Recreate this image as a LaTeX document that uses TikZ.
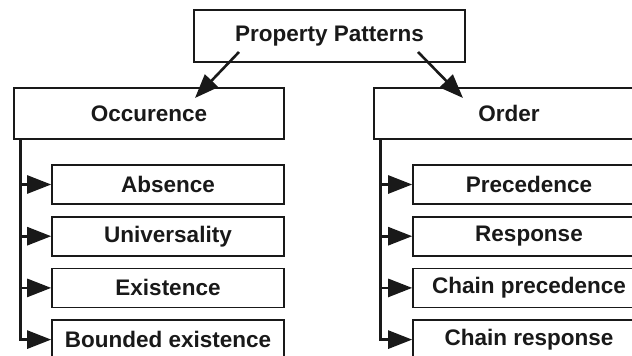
\documentclass[tikz,border=0pt]{standalone}
\usepackage{fontspec}
\setmainfont{Liberation Sans}
\usetikzlibrary{arrows.meta}

\begin{document}
\begin{tikzpicture}[
    x=1pt, y=-1pt,
    box/.style={draw=black!90, line width=1.6pt, text=black!90, inner sep=0pt,
      font=\bfseries\fontsize{22.5}{27}\selectfont},
    group/.style={box, minimum width=270pt, minimum height=51pt},
    leaf/.style={box, minimum width=232pt, minimum height=39pt},
    arr/.style={draw=black!90, line width=2.6pt, -{Triangle[length=24pt,width=18pt]}}
  ]
  \clip (0,0) rectangle (632,356);
  \node[box, minimum width=271pt, minimum height=52pt] (pp) at (329.5,36) {Property Patterns};
  \node[group] (occ) at (149,113.5) {Occurence};
  \node[group] (ord) at (509,113.5) {Order};
  % the two lists of patterns
  \foreach \name/\txt [count=\i from 0] in {abs/Absence, uni/Universality, ex/Existence, bex/Bounded existence}
    \node[leaf] (\name) at (168, 184.5+51.7*\i) {\txt};
  \foreach \name/\txt [count=\i from 0] in {pre/Precedence, res/Response, cpre/Chain precedence, cres/Chain response}
    \node[leaf] (\name) at (529, 184.5+51.7*\i) {\txt};

  \draw[arr] ([xshift=-90.5pt,yshift=-16pt]pp.center) -- ([xshift=46pt,yshift=15.5pt]occ.center);
  \draw[arr] ([xshift=88.5pt,yshift=-16pt]pp.center) -- ([xshift=-46pt,yshift=15.5pt]ord.center);

  % trunk lines with branches
  \coordinate (ltrunk) at ([xshift=7pt]occ.south west);
  \coordinate (rtrunk) at ([xshift=7pt]ord.south west);
  \foreach \n in {abs, uni, ex}
    \draw[arr] (ltrunk |- \n.west) -- (\n.west);
  \draw[arr] (ltrunk) |- (bex.west);
  \foreach \n in {pre, res, cpre}
    \draw[arr] (rtrunk |- \n.west) -- (\n.west);
  \draw[arr] (rtrunk) |- (cres.west);
\end{tikzpicture}
\end{document}
